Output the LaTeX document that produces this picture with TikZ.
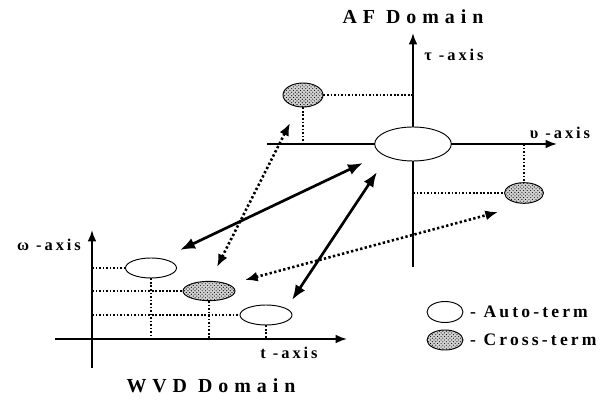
\documentclass[tikz,border=0pt]{standalone}
\usepackage{fontspec}
\setmainfont{Liberation Serif}
\newfontfamily\domainfont{Liberation Serif}[LetterSpace=30]
\newfontfamily\labelfont{Liberation Serif}[LetterSpace=18]
\usetikzlibrary{arrows.meta,shapes.geometric,patterns}

\begin{document}
\begin{tikzpicture}[
  x=0.03cm, y=-0.03cm,
  autoterm/.style={ellipse, draw, fill=white, line width=0.8pt, inner sep=0pt},
  crossterm/.style={ellipse, draw, preaction={fill=gray!35}, pattern=crosshatch dots, line width=0.8pt, inner sep=0pt},
  axisline/.style={line width=1.6pt, -{Latex[length=3.4mm,width=2.6mm]}},
  proj/.style={line width=1pt, dash pattern=on 1.5pt off 1.5pt},
  solidarr/.style={line width=2.3pt, {Latex[length=4.5mm,width=3.4mm]}-{Latex[length=4.5mm,width=3.4mm]}},
  dotarr/.style={line width=2.2pt, dash pattern=on 2pt off 2pt, {Latex[length=3.8mm,width=3mm]}-{Latex[length=3.8mm,width=3mm]}},
  domaintitle/.style={font=\domainfont\bfseries\fontsize{17}{20}\selectfont},
  axislabel/.style={font=\labelfont\bfseries\fontsize{14}{16}\selectfont},
  legendtext/.style={font=\labelfont\bfseries\fontsize{15}{18}\selectfont, anchor=west}
]
  \useasboundingbox (0,0) rectangle (608,405);

  % AF domain axes
  \coordinate (taubot) at (413,267);
  \coordinate (tautop) at (413,33);
  \coordinate (nuleft) at (267,144);
  \coordinate (nuright) at (557,144);
  \draw[axisline] (taubot) -- (tautop);
  \draw[axisline] (nuleft) -- (nuright);

  % AF domain terms
  \node[autoterm, minimum width=2.3cm, minimum height=1.02cm] (af) at (413,144) {};
  \node[crossterm, minimum width=1.2cm, minimum height=0.72cm] (acA) at (303,95) {};
  \node[crossterm, minimum width=1.17cm, minimum height=0.62cm] (acB) at (524,193) {};
  \draw[proj] (acA.east) -- (acA.east -| tautop);
  \draw[proj] (acA.south) -- (acA.south |- nuleft);
  \draw[proj] (acB.west -| tautop) -- (acB.west);
  \draw[proj] (acB.north |- nuleft) -- (acB.north);

  % WVD domain axes
  \coordinate (wbot) at (92,368);
  \coordinate (wtop) at (92,230);
  \coordinate (tleft) at (55,339);
  \coordinate (tright) at (347,339);
  \draw[axisline] (wbot) -- (wtop);
  \draw[axisline] (tleft) -- (tright);

  % WVD domain terms
  \node[autoterm, minimum width=1.53cm, minimum height=0.6cm] (wa1) at (151,268) {};
  \node[crossterm, minimum width=1.56cm, minimum height=0.58cm] (wc) at (209,291) {};
  \node[autoterm, minimum width=1.56cm, minimum height=0.6cm] (wa2) at (266,315) {};
  \foreach \t in {wa1,wc,wa2} {
    \draw[proj] (\t.west -| wbot) -- (\t.west);
    \draw[proj] (\t.south) -- (\t.south |- tleft);
  }

  % Labels
  \node[domaintitle] (aftitle) at (413,17) {AF Domain};
  \node[axislabel] (taulab) at (454,55) {τ -axis};
  \node[axislabel] (nulab) at (560,133) {υ -axis};
  \node[axislabel] (wlab) at (49,245) {ω -axis};
  \node[axislabel] (tlab) at (289,353) {t -axis};
  \node[domaintitle] (wvdtitle) at (211,386) {WVD Domain};

  % Legend
  \node[autoterm, minimum width=1.08cm, minimum height=0.63cm] (legA) at (445,312) {};
  \node[crossterm, minimum width=1.08cm, minimum height=0.6cm] (legC) at (445,340) {};
  \node[legendtext] (legAtext) at (466,312) {- Auto-term};
  \node[legendtext] (legCtext) at (466,340) {- Cross-term};

  % Mapping arrows
  \coordinate (s1a) at (180,250);
  \coordinate (s1b) at (363,163);
  \coordinate (s2a) at (292,300);
  \coordinate (s2b) at (377,172);
  \coordinate (d1a) at (217,267);
  \coordinate (d1b) at (290,123);
  \coordinate (d2a) at (245,280);
  \coordinate (d2b) at (498,212);
  \draw[solidarr] (s1a) -- (s1b);
  \draw[solidarr] (s2a) -- (s2b);
  \draw[dotarr] (d1a) -- (d1b);
  \draw[dotarr] (d2a) -- (d2b);
\end{tikzpicture}
\end{document}
